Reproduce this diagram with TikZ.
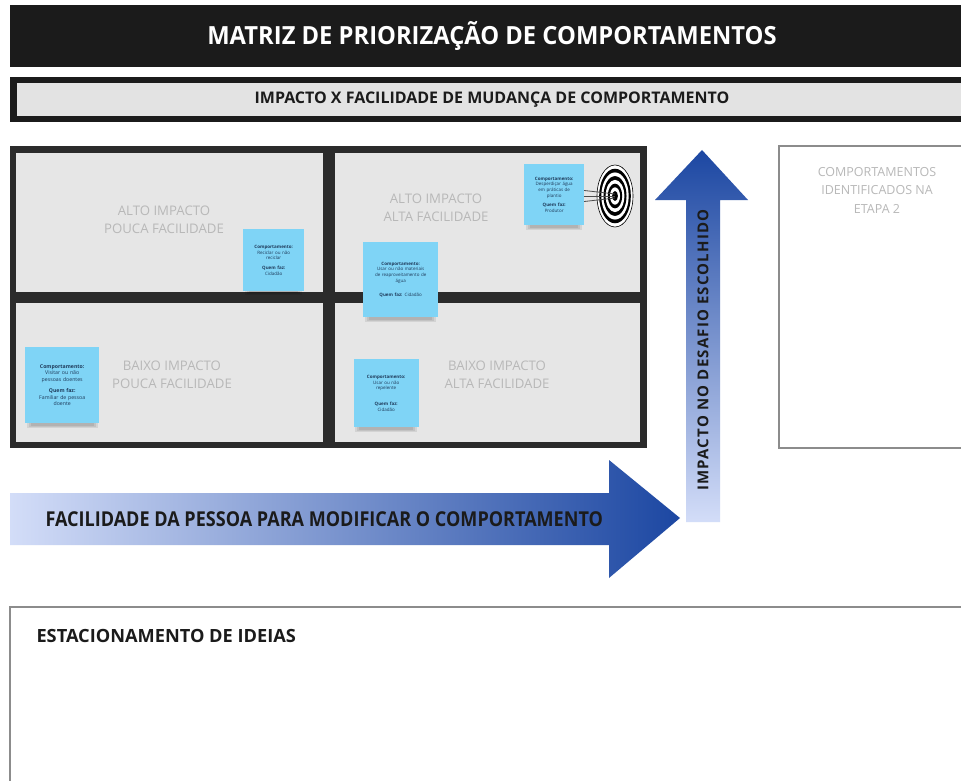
\documentclass[tikz,border=0pt]{standalone}
\usepackage{fontspec}
\setmainfont{Open Sans}
\newfontfamily\condA[FakeStretch=0.95]{Open Sans}
\newfontfamily\condB[FakeStretch=0.88]{Open Sans}
\newfontfamily\spaced[LetterSpace=8]{Open Sans}
\definecolor{hdr}{HTML}{1B1B1B}
\definecolor{subg}{HTML}{E3E3E3}
\definecolor{frame}{HTML}{2B2B2B}
\definecolor{quad}{HTML}{E6E6E6}
\definecolor{qtxt}{HTML}{B8B8B8}
\definecolor{stick}{HTML}{7FD4F6}
\definecolor{stxt}{HTML}{1E3A5A}
\definecolor{bdark}{HTML}{1C47A2}
\definecolor{blight}{HTML}{D3DDF8}
\definecolor{boxline}{HTML}{8C8C8C}
\tikzset{
  qlabel/.style={text=qtxt, align=center, font=\fontsize{13.2}{17.5}\selectfont},
  sticky/.style={fill=stick, inner sep=1pt, align=center, anchor=north west, text=stxt, font=\fontsize{4.5}{5.6}\selectfont},
  shadowbar/.style={fill=black, opacity=0.08},
  darklabel/.style={text=hdr}
}
\newcommand{\softshadow}[4]{%
  \fill[shadowbar] (#1,#2) rectangle (#3,#4);
  \fill[shadowbar] (#1+2,#2+1) rectangle (#3-2,#4-1);
  \fill[shadowbar] (#1+4,#2+2) rectangle (#3-4,#4-2);}
\begin{document}
\begin{tikzpicture}[x=1pt,y=-1pt]
\useasboundingbox (0,0) rectangle (961,781);
\fill[white] (0,0) rectangle (961,781);
% header
\fill[hdr] (10,5) rectangle (961,67);
\node[font=\condA\bfseries\fontsize{25}{30}\selectfont, text=white] (title) at (492,36) {MATRIZ DE PRIORIZAÇÃO DE COMPORTAMENTOS};
% subtitle
\fill[hdr] (10,77) rectangle (961,122);
\fill[subg] (17,83) rectangle (961,116);
\node[darklabel, font=\bfseries\fontsize{16}{19}\selectfont] (subtitle) at (492,100) {IMPACTO X FACILIDADE DE MUDANÇA DE COMPORTAMENTO};
% matrix
\fill[frame] (10,146) rectangle (647,448);
\fill[quad] (16,153) rectangle (323,292);
\fill[quad] (335,153) rectangle (640,292);
\fill[quad] (16,303) rectangle (323,442);
\fill[quad] (335,303) rectangle (640,442);
\node[qlabel] (tl) at (164,220) {ALTO IMPACTO\\POUCA FACILIDADE};
\node[qlabel] (tr) at (436,208) {ALTO IMPACTO\\ALTA FACILIDADE};
\node[qlabel] (bl) at (172,375) {BAIXO IMPACTO\\POUCA FACILIDADE};
\node[qlabel] (br) at (497,375) {BAIXO IMPACTO\\ALTA FACILIDADE};
% target
\foreach \r/\c in {1/white,0.88/black,0.76/white,0.64/black,0.52/white,0.40/black,0.28/white,0.16/black}{
  \fill[\c] (615,196) ellipse ({18*\r} and {31*\r});
}
\draw[black, line width=0.6pt] (615,196) ellipse (18 and 31);
\draw[black!70, line width=0.8pt] (580,190) -- (615,194);
\draw[black!70, line width=0.8pt] (580,196) -- (615,196);
\draw[black!70, line width=0.8pt] (580,202) -- (615,198);
% sticky notes
\softshadow{245}{287}{302}{295}
\node[sticky, minimum width=61pt, minimum height=62pt, text width=57pt] (n1) at (243,229) {\textbf{Comportamento:}\\Reciclar ou não\\reciclar\\[4pt]\textbf{Quem faz:}\\Cidadão};
\softshadow{365}{313}{436}{322}
\node[sticky, minimum width=75pt, minimum height=75pt, text width=70pt] (n2) at (363,242) {\textbf{Comportamento:}\\Usar ou não materiais\\de reaproveitamento de\\água\\[9pt]\textbf{Quem faz:} Cidadão};
\softshadow{526}{221}{582}{230}
\node[sticky, minimum width=60pt, minimum height=61pt, text width=56pt] (n3) at (524,164) {\textbf{Comportamento:}\\Desperdiçar água\\em práticas de\\plantio\\[4pt]\textbf{Quem faz:}\\Produtor};
\softshadow{27}{419}{98}{428}
\node[sticky, minimum width=74pt, minimum height=76pt, text width=70pt, font=\fontsize{5.2}{6.5}\selectfont] (n4) at (25,347) {\textbf{Comportamento:}\\Visitar ou não\\pessoas doentes\\[5pt]\textbf{Quem faz:}\\Familiar de pessoa\\doente};
\softshadow{355}{423}{417}{432}
\node[sticky, minimum width=65pt, minimum height=68pt, text width=61pt] (n5) at (353.5,359) {\textbf{Comportamento:}\\Usar ou não\\repelente\\[10pt]\textbf{Quem faz:}\\Cidadão};
% vertical arrow
\shade[top color=bdark, bottom color=blight] (686,522) -- (686,200) -- (655,200) -- (702,150) -- (748,200) -- (720,200) -- (720,522) -- cycle;
\node[rotate=90, font=\spaced\bfseries\fontsize{15}{18}\selectfont, text=hdr] (vlabel) at (703,350) {IMPACTO NO DESAFIO ESCOLHIDO};
% horizontal arrow
\shade[left color=blight, right color=bdark] (10,493) -- (609,493) -- (609,460) -- (680,518) -- (609,578) -- (609,545) -- (10,545) -- cycle;
\node[darklabel, font=\condB\bfseries\fontsize{20.5}{24}\selectfont, anchor=west] (hlabel) at (42,519) {FACILIDADE DA PESSOA PARA MODIFICAR O COMPORTAMENTO};
% right box
\draw[boxline, line width=1.5pt] (961,146) -- (779,146) -- (779,448) -- (961,448);
\node[text=qtxt, align=center, font=\fontsize{12.5}{18.5}\selectfont] (rbox) at (877,190) {COMPORTAMENTOS\\IDENTIFICADOS NA\\ETAPA 2};
% bottom box
\draw[boxline, line width=1.2pt] (961,607) -- (10,607) -- (10,781);
\node[darklabel, font=\bfseries\fontsize{18.2}{21}\selectfont, anchor=west] (park) at (33,636) {ESTACIONAMENTO DE IDEIAS};
\end{tikzpicture}
\end{document}
